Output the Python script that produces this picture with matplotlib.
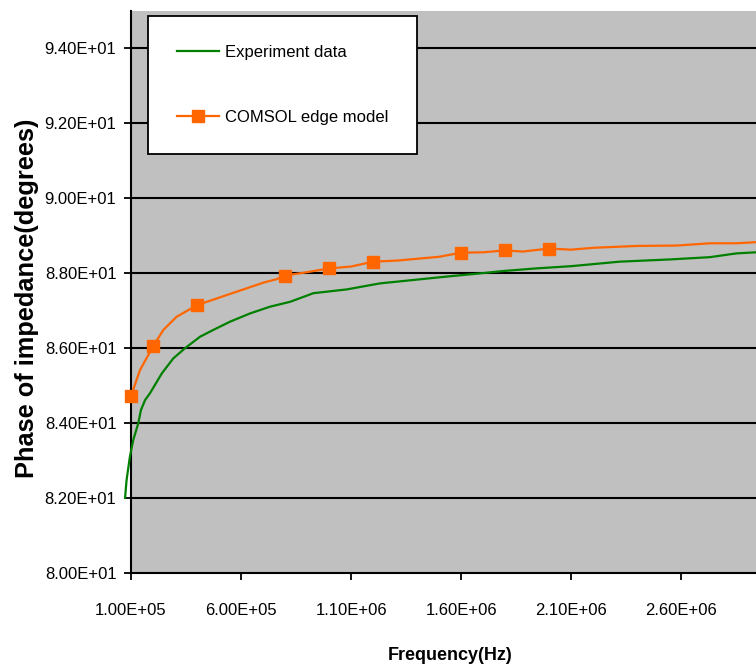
import matplotlib
matplotlib.use('Agg')
import matplotlib.pyplot as plt
from matplotlib.ticker import FormatStrFormatter

# Experiment data (green)
exp_freq = [7.3e4, 8.0e4, 9.5e4, 1.1e5, 1.33e5, 1.45e5, 1.64e5, 1.86e5, 2.4e5, 2.92e5,
            3.45e5, 4.14e5, 4.74e5, 5.5e5, 6.41e5, 7.32e5, 8.23e5, 9.29e5, 1.08e6, 1.23e6,
            1.38e6, 1.53e6, 1.69e6, 1.79e6, 1.94e6, 2.1e6, 2.32e6, 2.55e6, 2.73e6, 2.85e6, 2.94e6]
exp_phase = [82.01, 82.49, 83.11, 83.55, 84.0, 84.35, 84.62, 84.8, 85.33, 85.73,
             86.0, 86.31, 86.49, 86.71, 86.93, 87.11, 87.24, 87.47, 87.57, 87.73,
             87.82, 87.91, 88.0, 88.06, 88.13, 88.19, 88.31, 88.37, 88.43, 88.53, 88.56]

# COMSOL edge model (orange)
model_freq = [1e5, 1.41e5, 2e5, 2.47e5, 3.07e5, 4e5, 4.9e5, 5.5e5, 6.26e5, 7.01e5, 7.6e5,
              8e5, 9e5, 1e6, 1.1e6, 1.2e6, 1.31e6, 1.5e6, 1.6e6, 1.7e6, 1.8e6, 1.88e6,
              2e6, 2.1e6, 2.2e6, 2.4e6, 2.58e6, 2.73e6, 2.85e6, 2.94e6]
model_phase = [84.73, 85.42, 86.05, 86.49, 86.84, 87.15, 87.33, 87.45, 87.6, 87.75, 87.84,
               87.94, 88.03, 88.13, 88.18, 88.31, 88.34, 88.44, 88.55, 88.56, 88.61, 88.58,
               88.66, 88.63, 88.68, 88.73, 88.74, 88.8, 88.8, 88.83]
marker_freq = [1e5, 2e5, 4e5, 8e5, 1e6, 1.2e6, 1.6e6, 1.8e6, 2e6]

x_ticks = [1e5, 6e5, 1.1e6, 1.6e6, 2.1e6, 2.6e6]
y_ticks = [80, 82, 84, 86, 88, 90, 92, 94]

plt.rcParams['font.family'] = ['Liberation Sans', 'DejaVu Sans']

fig = plt.figure(figsize=(7.56, 6.72), dpi=100)
ax = fig.add_axes([131 / 756, 98.7 / 672, 625 / 756, 562.5 / 672])
ax.set_facecolor('#C0C0C0')

for y in y_ticks[1:]:
    ax.axhline(y, color='black', lw=1.5, zorder=1)

ax.plot(exp_freq, exp_phase, color='#008000', lw=1.6, label='Experiment data',
        zorder=3, clip_on=False)
marks = [i for i, f in enumerate(model_freq) if f in marker_freq]
ax.plot(model_freq, model_phase, color='#FF6600', lw=1.6, marker='s', ms=8,
        markevery=marks, label='COMSOL edge model', zorder=4, clip_on=False)

ax.set_xlim(1e5, 2.94e6)
ax.set_ylim(80, 95)
ax.set_xticks(x_ticks)
ax.set_yticks(y_ticks)
ax.xaxis.set_major_formatter(FormatStrFormatter('%.2E'))
ax.yaxis.set_major_formatter(FormatStrFormatter('%.2E'))
ax.tick_params(axis='both', direction='out', length=5, width=1.3, labelsize=12, colors='black')
ax.tick_params(axis='x', pad=16.5)
ax.tick_params(axis='y', pad=5.5)

for s in ['top', 'right']:
    ax.spines[s].set_visible(False)
for s in ['left', 'bottom']:
    ax.spines[s].set_linewidth(1.5)
    ax.spines[s].set_color('black')

fig.text(450 / 756, 1 - 656 / 672, 'Frequency(Hz)', ha='center', va='center',
         fontsize=13, fontweight='bold')
fig.text(27 / 756, 1 - 298 / 672, 'Phase of impedance(degrees)', rotation=90,
         ha='center', va='center', fontsize=18.3, fontweight='bold')

leg = ax.legend(loc='upper left', bbox_to_anchor=(148 / 756, 1 - 16 / 672),
                bbox_transform=fig.transFigure, borderaxespad=0, fontsize=12,
                frameon=True, fancybox=False, framealpha=1, edgecolor='black',
                handlelength=2.5, handletextpad=0.36, labelspacing=3.0,
                borderpad=1.75, numpoints=1)
leg.get_frame().set_linewidth(1.3)

fig.savefig('out.png', dpi=100)
